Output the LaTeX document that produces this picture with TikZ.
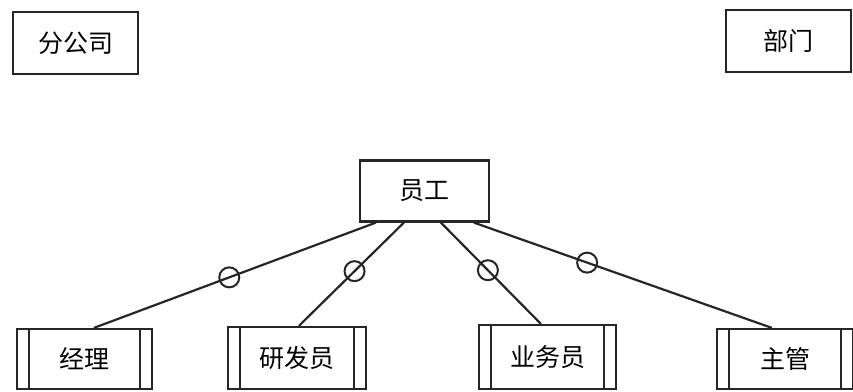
\documentclass[tikz,border=0pt]{standalone}
\usepackage{fontspec}
\setmainfont{Noto Sans CJK SC}
\usetikzlibrary{calc}
\begin{document}
\begin{tikzpicture}[x=1pt,y=-1pt,
  box/.style={draw=black!85,line width=2.2pt,inner sep=0pt,font=\fontsize{25}{29}\selectfont},
  link/.style={draw=black!85,line width=2.2pt},
  ring/.style={draw=black!85,line width=2pt,circle,minimum size=20pt,inner sep=0pt,fill=none}]
\useasboundingbox (0,0) rectangle (853,391);
% entity boxes
\node[box,minimum width=125pt,minimum height=62pt] (fgs) at (75.5,43) {分公司};
\node[box,minimum width=125pt,minimum height=62pt] (bm) at (788.5,41) {部门};
\node[box,minimum width=129pt,minimum height=61pt] (yg) at (424.5,191) {员工};
% weak entity boxes
\node[box,minimum width=135pt,minimum height=60pt] (jl) at (84.5,359) {经理};
\node[box,minimum width=138pt,minimum height=62pt] (yfy) at (297,358) {研发员};
\node[box,minimum width=137pt,minimum height=64pt] (ywy) at (547.5,357) {业务员};
\node[box,minimum width=136pt,minimum height=60pt] (zg) at (785,359) {主管};
\foreach \n in {jl,yfy,ywy,zg}{
  \draw[link] ($(\n.north west)+(13,0)$) -- ($(\n.south west)+(13,0)$);
  \draw[link] ($(\n.north east)+(-13,0)$) -- ($(\n.south east)+(-13,0)$);
}
% attachment points
\coordinate (s1) at ($(yg.south west)+(17,0)$);
\coordinate (s2) at ($(yg.south west)+(45,0)$);
\coordinate (s3) at ($(yg.south west)+(82,0)$);
\coordinate (s4) at ($(yg.south west)+(115,0)$);
\coordinate (t1) at ($(jl.north west)+(78,0)$);
\coordinate (t2) at ($(yfy.north west)+(72,0)$);
\coordinate (t3) at ($(ywy.north west)+(63,0)$);
\coordinate (t4) at ($(zg.north west)+(56,0)$);
% connectors with circles
\draw[link] (s1) -- node[pos=0.52,ring] (r1) {} (t1);
\draw[link] (s2) -- node[pos=0.47,ring] (r2) {} (t2);
\draw[link] (s3) -- node[pos=0.47,ring] (r3) {} (t3);
\draw[link] (s4) -- node[pos=0.38,ring] (r4) {} (t4);
\end{tikzpicture}
\end{document}
